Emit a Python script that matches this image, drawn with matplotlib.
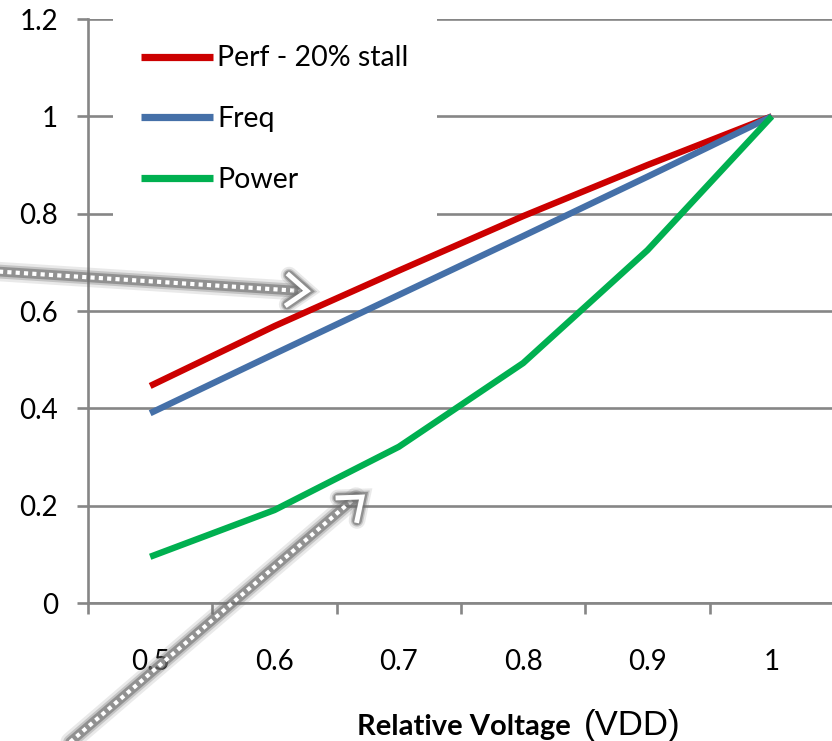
import numpy as np
import matplotlib
matplotlib.use("Agg")
import matplotlib.pyplot as plt
from matplotlib.lines import Line2D

# values
voltage = ["0.5", "0.6", "0.7", "0.8", "0.9", "1"]
perf = [0.446, 0.569, 0.683, 0.795, 0.900, 1.0]
freq = [0.390, 0.512, 0.633, 0.754, 0.876, 1.0]
power = [0.095, 0.191, 0.321, 0.493, 0.725, 1.0]
series_names = ["Perf - 20% stall", "Freq", "Power"]
series_colors = ["#CC0000", "#4570A8", "#00B050"]
y_ticks = [0, 0.2, 0.4, 0.6, 0.8, 1, 1.2]
y_ticklabels = ["0", "0.2", "0.4", "0.6", "0.8", "1", "1.2"]

W, H = 832, 741
grid_col = "#868686"

plt.rcParams['font.family'] = ['Lato', 'DejaVu Sans']

fig = plt.figure(figsize=(W / 100, H / 100), dpi=100)
ax = fig.add_axes([88 / W, (H - 603) / H, (834 - 88) / W, (603 - 19) / H])

xpos = np.arange(len(voltage))
handles = []
for vals, name, col in zip([perf, freq, power], series_names, series_colors):
    ln, = ax.plot(xpos, vals, color=col, lw=4.6, solid_capstyle='butt', zorder=3, label=name)
    handles.append(ln)

ax.set_xlim(-0.5, len(voltage) - 0.5)
ax.set_ylim(0, 1.2)
ax.set_yticks(y_ticks)
ax.set_yticklabels(y_ticklabels, fontsize=20)
ax.yaxis.grid(True, color=grid_col, lw=1.9, zorder=1)
ax.tick_params(axis='y', length=8, width=1.9, color=grid_col, pad=13.5)

ax.set_xticks(xpos)
ax.set_xticklabels(voltage, fontsize=20)
ax.set_xticks(np.arange(-0.5, len(voltage), 1.0), minor=True)
ax.tick_params(axis='x', which='major', length=0, pad=33)
ax.tick_params(axis='x', which='minor', length=8, width=1.9, color=grid_col)

for s in ['top', 'right']:
    ax.spines[s].set_visible(False)
for s in ['left', 'bottom']:
    ax.spines[s].set_color(grid_col)
    ax.spines[s].set_linewidth(1.9)
    ax.spines[s].set_zorder(2)

leg = ax.legend(handles=handles, loc='upper left',
                bbox_to_anchor=((113 - 88) / 746, 1 - (17 - 19) / 584),
                borderaxespad=0, fontsize=20.5, frameon=True, facecolor='white',
                edgecolor='none', framealpha=1, fancybox=False,
                handlelength=2.5, handletextpad=0.15, labelspacing=1.22, borderpad=1.0)
leg.set_zorder(2.5)
for h in leg.legend_handles:
    h.set_linewidth(5.2)

# x axis title: bold part plus (VDD) in a different face
fig.text(357 / W, (H - 735) / H, "Relative Voltage", fontsize=21, fontweight='bold',
         ha='left', va='baseline')
fig.text(584 / W, (H - 735) / H, "(VDD)", fontsize=25, family=['Liberation Sans', 'DejaVu Sans'],
         ha='left', va='baseline')


# dotted callout arrows drawn in pixel space of the figure
def callout(x0, y0, x1, y1):
    def to_fig(xs, ys):
        return [x / W for x in xs], [(H - y) / H for y in ys]
    xs, ys = to_fig([x0, x1 - 6 * np.sign(x1 - x0)], [y0, y1])
    for lw, a in [(14, 0.15), (10, 0.3), (7, 0.6)]:
        fig.add_artist(Line2D(xs, ys, color="#707070", lw=lw, alpha=a, solid_capstyle='round'))
    fig.add_artist(Line2D(xs, ys, color="white", lw=3.0, linestyle=(0, (1.0, 1.0)),
                          dash_capstyle='butt'))
    d = np.array([x1 - x0, y1 - y0], dtype=float)
    d /= np.hypot(*d)
    ang = np.deg2rad(38)
    pts = []
    for sgn in (1, -1):
        c, s = np.cos(sgn * ang), np.sin(sgn * ang)
        back = -np.array([c * d[0] - s * d[1], s * d[0] + c * d[1]]) * 24
        pts.append((x1 + back[0], y1 + back[1]))
    hx, hy = to_fig([pts[0][0], x1, pts[1][0]], [pts[0][1], y1, pts[1][1]])
    for lw, a in [(12, 0.15), (9, 0.3), (7, 0.6)]:
        fig.add_artist(Line2D(hx, hy, color="#707070", lw=lw, alpha=a,
                              solid_capstyle='round', solid_joinstyle='miter'))
    fig.add_artist(Line2D(hx, hy, color="white", lw=3.5, solid_joinstyle='miter'))


callout(-10, 271, 307, 291)
callout(55, 755, 362, 497)

fig.savefig("out.png", dpi=100)
